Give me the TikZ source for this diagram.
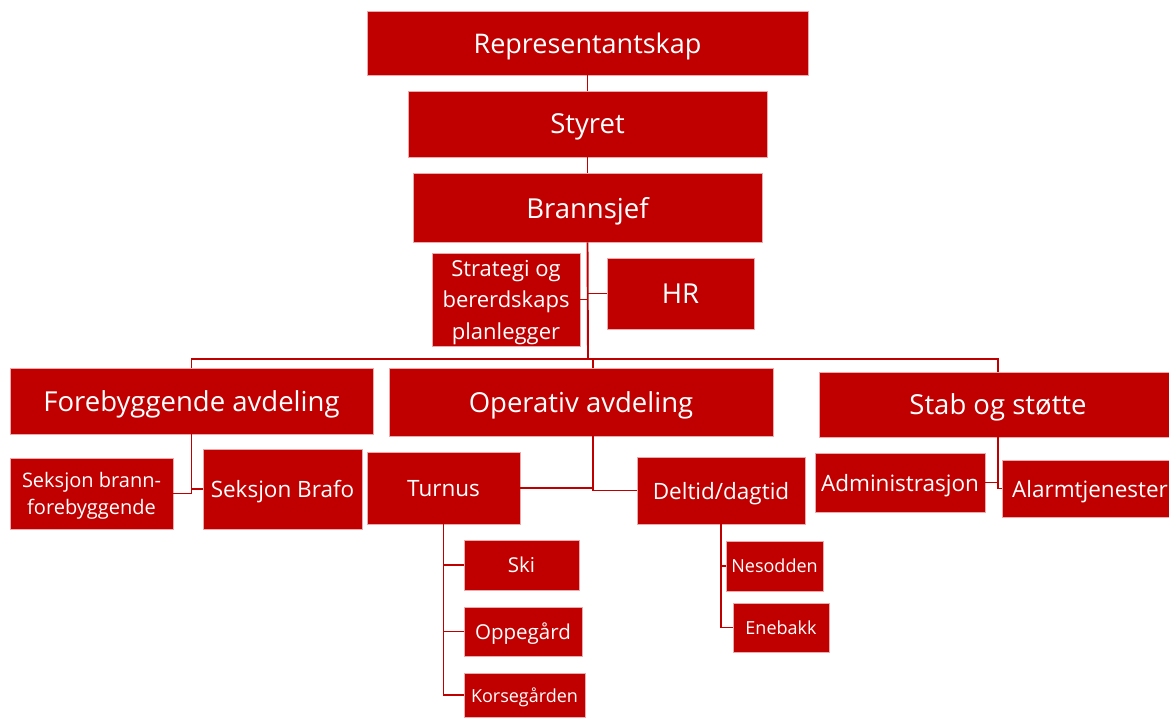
\documentclass[tikz,border=0pt]{standalone}
\usepackage{fontspec}
\setmainfont{Open Sans}
\definecolor{cred}{RGB}{192,0,0}
\definecolor{cedge}{RGB}{236,170,170}
\begin{document}
\begin{tikzpicture}[x=1pt,y=-1pt,
  box/.style={fill=cred, draw=cedge, line width=0.6pt, text=white, inner sep=0pt, align=center, text depth=0pt},
  big/.style={font=\fontsize{27.5}{32}\selectfont},
  mid/.style={font=\fontsize{22.5}{32}\selectfont},
  sml/.style={font=\fontsize{20.5}{24}\selectfont},
  tiny/.style={font=\fontsize{18}{22}\selectfont},
  conn/.style={draw=cred, line width=1.9pt}]
\useasboundingbox (0,0) rectangle (1169,717);
% boxes
\node[box,font=\fontsize{27}{32}\selectfont,minimum width=441pt,minimum height=64pt] (rep) at (587.5,43) {Representantskap};
\node[box,big,minimum width=359pt,minimum height=66pt] (sty) at (587.5,124) {Styret};
\node[box,big,minimum width=349pt,minimum height=69pt] (bra) at (587.5,207.5) {Brannsjef};
\node[box,font=\fontsize{22}{31.5}\selectfont,minimum width=148pt,minimum height=93pt] (str) at (506,299.5) {Strategi og\\bererdskaps\\planlegger};
\node[box,big,minimum width=147pt,minimum height=71pt] (hr) at (680.5,293.5) {HR};
\node[box,big,minimum width=363pt,minimum height=66pt] (fore) at (191.5,401) {Forebyggende avdeling};
\node[box,big,minimum width=384pt,minimum height=68pt] (ope) at (581,402) {Operativ avdeling};
\node[box,big,minimum width=358pt,minimum height=65pt] (stab) at (998,404.5) {Stab og støtte};
\node[box,font=\fontsize{20}{27}\selectfont,minimum width=163pt,minimum height=71pt] (sbf) at (91.5,493.5) {Seksjon brann-\\forebyggende};
\node[box,mid,minimum width=159pt,minimum height=80pt] (brafo) at (282.5,489) {Seksjon Brafo};
\node[box,mid,minimum width=153pt,minimum height=72pt] (tur) at (443.5,488) {Turnus};
\node[box,mid,minimum width=168pt,minimum height=67pt] (del) at (721,490.5) {Deltid/dagtid};
\node[box,mid,minimum width=170pt,minimum height=59pt] (adm) at (900,482.5) {Administrasjon};
\node[box,mid,minimum width=176pt,minimum height=57pt] (alarm) at (1090,488.5) {Alarmtjenester};
\node[box,sml,minimum width=115pt,minimum height=50pt] (ski) at (521.5,565) {Ski};
\node[box,sml,minimum width=118pt,minimum height=49pt] (opp) at (523,631.5) {Oppegård};
\node[box,tiny,minimum width=121pt,minimum height=44pt] (kor) at (524.5,695) {Korsegården};
\node[box,tiny,minimum width=97pt,minimum height=50pt] (nes) at (774.5,566) {Nesodden};
\node[box,tiny,minimum width=96pt,minimum height=49pt] (ene) at (781,627.5) {Enebakk};
% junction points
\coordinate (bus) at (588,359);
\coordinate (opn) at (593,368);
\coordinate (ops) at (593,436);
\coordinate (stn) at (998,372);
\coordinate (sts) at (998,437);
% connectors
\draw[conn] (rep) -- (sty);
\draw[conn] (sty) -- (bra);
\draw[conn] (bra.south) -- (bus);
\draw[conn] (str.east) -- (str.east -| bus);
\draw[conn] (hr.west) -- (hr.west -| bus);
\draw[conn] (bus) -| (fore.north);
\draw[conn] (bus) -| (stn);
\draw[conn] (bus) -| (opn);
\draw[conn] (fore.south) |- (sbf.east);
\draw[conn] (fore.south) |- (brafo.west);
\draw[conn] (ops) |- (tur.east);
\draw[conn] (ops) |- (del.west);
\draw[conn] (sts) |- (adm.east);
\draw[conn] (sts) |- (alarm.west);
\draw[conn] (tur.south) |- (ski.west);
\draw[conn] (tur.south) |- (opp.west);
\draw[conn] (tur.south) |- (kor.west);
\draw[conn] (del.south) |- (nes.west);
\draw[conn] (del.south) |- (ene.west);
\end{tikzpicture}
\end{document}
